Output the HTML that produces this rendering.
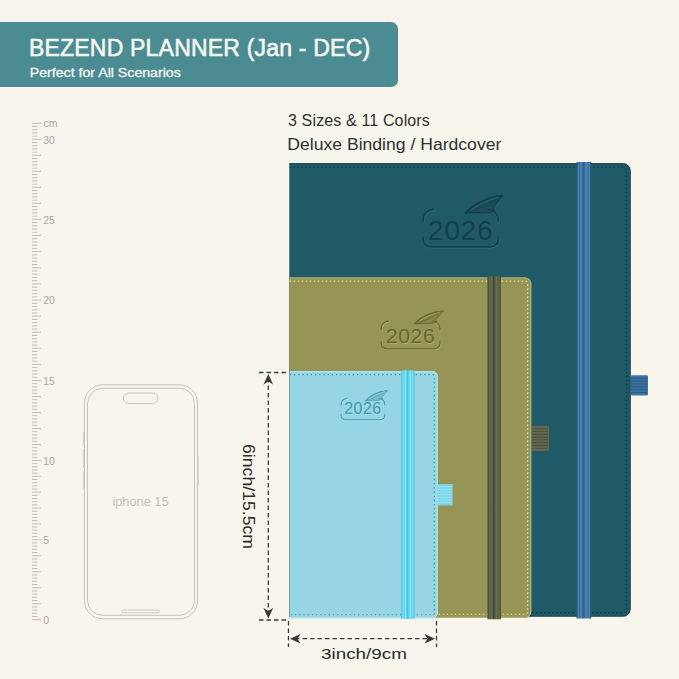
<!DOCTYPE html>
<html><head><meta charset="utf-8">
<style>
html,body{margin:0;padding:0;}
body{width:679px;height:679px;overflow:hidden;background:#f8f5ed;position:relative;font-family:"Liberation Sans",sans-serif;}
.abs{position:absolute;}
#banner{left:0;top:22px;width:398px;height:65px;background:#4a8c91;border-radius:0 7px 7px 0;}
</style></head><body>
<div id="banner" class="abs"></div>
<svg class="abs" style="left:0;top:0" width="679" height="679" viewBox="0 0 679 679">
<g stroke="#c2beb6" stroke-width="1"><line x1="32" y1="619.70" x2="41.5" y2="619.70"/><line x1="32" y1="616.50" x2="37.5" y2="616.50"/><line x1="32" y1="613.30" x2="37.5" y2="613.30"/><line x1="32" y1="610.10" x2="37.5" y2="610.10"/><line x1="32" y1="606.90" x2="37.5" y2="606.90"/><line x1="32" y1="603.70" x2="41" y2="603.70"/><line x1="32" y1="600.50" x2="37.5" y2="600.50"/><line x1="32" y1="597.30" x2="37.5" y2="597.30"/><line x1="32" y1="594.10" x2="37.5" y2="594.10"/><line x1="32" y1="590.90" x2="37.5" y2="590.90"/><line x1="32" y1="587.70" x2="41" y2="587.70"/><line x1="32" y1="584.50" x2="37.5" y2="584.50"/><line x1="32" y1="581.30" x2="37.5" y2="581.30"/><line x1="32" y1="578.10" x2="37.5" y2="578.10"/><line x1="32" y1="574.90" x2="37.5" y2="574.90"/><line x1="32" y1="571.70" x2="41" y2="571.70"/><line x1="32" y1="568.50" x2="37.5" y2="568.50"/><line x1="32" y1="565.30" x2="37.5" y2="565.30"/><line x1="32" y1="562.10" x2="37.5" y2="562.10"/><line x1="32" y1="558.90" x2="37.5" y2="558.90"/><line x1="32" y1="555.70" x2="41" y2="555.70"/><line x1="32" y1="552.50" x2="37.5" y2="552.50"/><line x1="32" y1="549.30" x2="37.5" y2="549.30"/><line x1="32" y1="546.10" x2="37.5" y2="546.10"/><line x1="32" y1="542.90" x2="37.5" y2="542.90"/><line x1="32" y1="539.70" x2="41.5" y2="539.70"/><line x1="32" y1="536.53" x2="37.5" y2="536.53"/><line x1="32" y1="533.36" x2="37.5" y2="533.36"/><line x1="32" y1="530.20" x2="37.5" y2="530.20"/><line x1="32" y1="527.03" x2="37.5" y2="527.03"/><line x1="32" y1="523.86" x2="41" y2="523.86"/><line x1="32" y1="520.69" x2="37.5" y2="520.69"/><line x1="32" y1="517.52" x2="37.5" y2="517.52"/><line x1="32" y1="514.36" x2="37.5" y2="514.36"/><line x1="32" y1="511.19" x2="37.5" y2="511.19"/><line x1="32" y1="508.02" x2="41" y2="508.02"/><line x1="32" y1="504.85" x2="37.5" y2="504.85"/><line x1="32" y1="501.68" x2="37.5" y2="501.68"/><line x1="32" y1="498.52" x2="37.5" y2="498.52"/><line x1="32" y1="495.35" x2="37.5" y2="495.35"/><line x1="32" y1="492.18" x2="41" y2="492.18"/><line x1="32" y1="489.01" x2="37.5" y2="489.01"/><line x1="32" y1="485.84" x2="37.5" y2="485.84"/><line x1="32" y1="482.68" x2="37.5" y2="482.68"/><line x1="32" y1="479.51" x2="37.5" y2="479.51"/><line x1="32" y1="476.34" x2="41" y2="476.34"/><line x1="32" y1="473.17" x2="37.5" y2="473.17"/><line x1="32" y1="470.00" x2="37.5" y2="470.00"/><line x1="32" y1="466.84" x2="37.5" y2="466.84"/><line x1="32" y1="463.67" x2="37.5" y2="463.67"/><line x1="32" y1="460.50" x2="41.5" y2="460.50"/><line x1="32" y1="457.30" x2="37.5" y2="457.30"/><line x1="32" y1="454.10" x2="37.5" y2="454.10"/><line x1="32" y1="450.90" x2="37.5" y2="450.90"/><line x1="32" y1="447.70" x2="37.5" y2="447.70"/><line x1="32" y1="444.50" x2="41" y2="444.50"/><line x1="32" y1="441.30" x2="37.5" y2="441.30"/><line x1="32" y1="438.10" x2="37.5" y2="438.10"/><line x1="32" y1="434.90" x2="37.5" y2="434.90"/><line x1="32" y1="431.70" x2="37.5" y2="431.70"/><line x1="32" y1="428.50" x2="41" y2="428.50"/><line x1="32" y1="425.30" x2="37.5" y2="425.30"/><line x1="32" y1="422.10" x2="37.5" y2="422.10"/><line x1="32" y1="418.90" x2="37.5" y2="418.90"/><line x1="32" y1="415.70" x2="37.5" y2="415.70"/><line x1="32" y1="412.50" x2="41" y2="412.50"/><line x1="32" y1="409.30" x2="37.5" y2="409.30"/><line x1="32" y1="406.10" x2="37.5" y2="406.10"/><line x1="32" y1="402.90" x2="37.5" y2="402.90"/><line x1="32" y1="399.70" x2="37.5" y2="399.70"/><line x1="32" y1="396.50" x2="41" y2="396.50"/><line x1="32" y1="393.30" x2="37.5" y2="393.30"/><line x1="32" y1="390.10" x2="37.5" y2="390.10"/><line x1="32" y1="386.90" x2="37.5" y2="386.90"/><line x1="32" y1="383.70" x2="37.5" y2="383.70"/><line x1="32" y1="380.50" x2="41.5" y2="380.50"/><line x1="32" y1="377.28" x2="37.5" y2="377.28"/><line x1="32" y1="374.07" x2="37.5" y2="374.07"/><line x1="32" y1="370.85" x2="37.5" y2="370.85"/><line x1="32" y1="367.64" x2="37.5" y2="367.64"/><line x1="32" y1="364.42" x2="41" y2="364.42"/><line x1="32" y1="361.20" x2="37.5" y2="361.20"/><line x1="32" y1="357.99" x2="37.5" y2="357.99"/><line x1="32" y1="354.77" x2="37.5" y2="354.77"/><line x1="32" y1="351.56" x2="37.5" y2="351.56"/><line x1="32" y1="348.34" x2="41" y2="348.34"/><line x1="32" y1="345.12" x2="37.5" y2="345.12"/><line x1="32" y1="341.91" x2="37.5" y2="341.91"/><line x1="32" y1="338.69" x2="37.5" y2="338.69"/><line x1="32" y1="335.48" x2="37.5" y2="335.48"/><line x1="32" y1="332.26" x2="41" y2="332.26"/><line x1="32" y1="329.04" x2="37.5" y2="329.04"/><line x1="32" y1="325.83" x2="37.5" y2="325.83"/><line x1="32" y1="322.61" x2="37.5" y2="322.61"/><line x1="32" y1="319.40" x2="37.5" y2="319.40"/><line x1="32" y1="316.18" x2="41" y2="316.18"/><line x1="32" y1="312.96" x2="37.5" y2="312.96"/><line x1="32" y1="309.75" x2="37.5" y2="309.75"/><line x1="32" y1="306.53" x2="37.5" y2="306.53"/><line x1="32" y1="303.32" x2="37.5" y2="303.32"/><line x1="32" y1="300.10" x2="41.5" y2="300.10"/><line x1="32" y1="296.87" x2="37.5" y2="296.87"/><line x1="32" y1="293.64" x2="37.5" y2="293.64"/><line x1="32" y1="290.40" x2="37.5" y2="290.40"/><line x1="32" y1="287.17" x2="37.5" y2="287.17"/><line x1="32" y1="283.94" x2="41" y2="283.94"/><line x1="32" y1="280.71" x2="37.5" y2="280.71"/><line x1="32" y1="277.48" x2="37.5" y2="277.48"/><line x1="32" y1="274.24" x2="37.5" y2="274.24"/><line x1="32" y1="271.01" x2="37.5" y2="271.01"/><line x1="32" y1="267.78" x2="41" y2="267.78"/><line x1="32" y1="264.55" x2="37.5" y2="264.55"/><line x1="32" y1="261.32" x2="37.5" y2="261.32"/><line x1="32" y1="258.08" x2="37.5" y2="258.08"/><line x1="32" y1="254.85" x2="37.5" y2="254.85"/><line x1="32" y1="251.62" x2="41" y2="251.62"/><line x1="32" y1="248.39" x2="37.5" y2="248.39"/><line x1="32" y1="245.16" x2="37.5" y2="245.16"/><line x1="32" y1="241.92" x2="37.5" y2="241.92"/><line x1="32" y1="238.69" x2="37.5" y2="238.69"/><line x1="32" y1="235.46" x2="41" y2="235.46"/><line x1="32" y1="232.23" x2="37.5" y2="232.23"/><line x1="32" y1="229.00" x2="37.5" y2="229.00"/><line x1="32" y1="225.76" x2="37.5" y2="225.76"/><line x1="32" y1="222.53" x2="37.5" y2="222.53"/><line x1="32" y1="219.30" x2="41.5" y2="219.30"/><line x1="32" y1="216.10" x2="37.5" y2="216.10"/><line x1="32" y1="212.90" x2="37.5" y2="212.90"/><line x1="32" y1="209.70" x2="37.5" y2="209.70"/><line x1="32" y1="206.50" x2="37.5" y2="206.50"/><line x1="32" y1="203.30" x2="41" y2="203.30"/><line x1="32" y1="200.10" x2="37.5" y2="200.10"/><line x1="32" y1="196.90" x2="37.5" y2="196.90"/><line x1="32" y1="193.70" x2="37.5" y2="193.70"/><line x1="32" y1="190.50" x2="37.5" y2="190.50"/><line x1="32" y1="187.30" x2="41" y2="187.30"/><line x1="32" y1="184.10" x2="37.5" y2="184.10"/><line x1="32" y1="180.90" x2="37.5" y2="180.90"/><line x1="32" y1="177.70" x2="37.5" y2="177.70"/><line x1="32" y1="174.50" x2="37.5" y2="174.50"/><line x1="32" y1="171.30" x2="41" y2="171.30"/><line x1="32" y1="168.10" x2="37.5" y2="168.10"/><line x1="32" y1="164.90" x2="37.5" y2="164.90"/><line x1="32" y1="161.70" x2="37.5" y2="161.70"/><line x1="32" y1="158.50" x2="37.5" y2="158.50"/><line x1="32" y1="155.30" x2="41" y2="155.30"/><line x1="32" y1="152.10" x2="37.5" y2="152.10"/><line x1="32" y1="148.90" x2="37.5" y2="148.90"/><line x1="32" y1="145.70" x2="37.5" y2="145.70"/><line x1="32" y1="142.50" x2="37.5" y2="142.50"/><line x1="32" y1="139.30" x2="41.5" y2="139.30"/><line x1="32" y1="136.10" x2="37.5" y2="136.10"/><line x1="32" y1="132.90" x2="37.5" y2="132.90"/><line x1="32" y1="129.70" x2="37.5" y2="129.70"/><line x1="32" y1="126.50" x2="37.5" y2="126.50"/><line x1="32" y1="123.30" x2="41.5" y2="123.30"/></g>
<g fill="#a8a49e" font-family="Liberation Sans" font-size="10.4"><text x="43.2" y="623.90">0</text><text x="43.2" y="543.90">5</text><text x="43.2" y="464.70">10</text><text x="43.2" y="384.70">15</text><text x="43.2" y="304.30">20</text><text x="43.2" y="223.50">25</text><text x="43.2" y="143.50">30</text><text x="43.6" y="126.70">cm</text></g>
<g fill="none" stroke="#c7c3bc" stroke-width="1">
<rect x="84.5" y="384.8" width="113" height="234" rx="18"/>
<rect x="87.5" y="388.3" width="107" height="227" rx="15"/>
<rect x="123.5" y="393" width="34.5" height="10.5" rx="5.25"/>
<rect x="121.8" y="610" width="37.6" height="2.8" rx="1.4" stroke-width="0.9"/>
</g>
<g stroke="#dad6cf" stroke-width="1.2" fill="none"><line x1="83.5" y1="432" x2="83.5" y2="446"/><line x1="83.5" y1="449" x2="83.5" y2="468"/><line x1="83.5" y1="471" x2="83.5" y2="490"/><line x1="198.3" y1="456" x2="198.3" y2="485"/></g>
<text x="140.5" y="505.5" fill="#c4c0b9" font-family="Liberation Sans" font-size="12.8" text-anchor="middle">iphone 15</text>
<path d="M289.3,163.2 H623.1 A7.5,7.5 0 0 1 630.6,170.7 V609.1 A7.5,7.5 0 0 1 623.1,616.6 H289.3 Z" fill="#1f5a66"/><path d="M289.3,163.7 H623.1 A7.0,7.0 0 0 1 630.1,170.7 V609.1 A7.0,7.0 0 0 1 623.1,616.1 H289.3" fill="none" stroke="#174650" stroke-width="1"/><path d="M289.3,167.2 H623.1 A3.5,3.5 0 0 1 626.6,170.7 V609.1 A3.5,3.5 0 0 1 623.1,612.6 H289.3" fill="none" stroke="#123c45" stroke-width="1.1" stroke-dasharray="2 2"/><g fill="none" stroke-linecap="round"><path transform="translate(0.7,0.7)" d="M433.43,209.50 A10.12,10.12 0 0 0 423.30,219.62 V221.14 M423.30,237.25 V239.50 A7.50,7.50 0 0 0 430.80,247.00 H490.80 A7.50,7.50 0 0 0 498.30,239.50 V237.25 M498.30,221.14 V219.62 A10.12,10.12 0 0 0 488.18,209.50" stroke="#2e6c77" stroke-width="1.57"/><path transform="translate(0,0)" d="M433.43,209.50 A10.12,10.12 0 0 0 423.30,219.62 V221.14 M423.30,237.25 V239.50 A7.50,7.50 0 0 0 430.80,247.00 H490.80 A7.50,7.50 0 0 0 498.30,239.50 V237.25 M498.30,221.14 V219.62 A10.12,10.12 0 0 0 488.18,209.50" stroke="#134049" stroke-width="1.57"/></g><text x="461.40" y="240.10" text-anchor="middle" font-family="Liberation Sans" font-size="28" fill="#2e6c77" letter-spacing="0.84">2026</text><text x="460.80" y="239.50" text-anchor="middle" font-family="Liberation Sans" font-size="28" fill="#134049" stroke="#1f5a66" stroke-width="0.62" paint-order="stroke" letter-spacing="0.84">2026</text><path d="M465.30,213.25 C472.80,204.62 486.30,197.12 502.80,195.62 C498.30,199.00 496.05,205.00 492.30,207.62 L494.55,210.25 C490.80,212.50 483.30,213.25 477.30,212.50 C472.80,212.88 468.30,213.25 465.30,213.25 Z" fill="#134049" fill-opacity="0.35" stroke="#134049" stroke-width="1.09" stroke-linejoin="round"/><path d="M465.30,213.25 C472.80,204.62 486.30,197.12 502.80,195.62" fill="none" stroke="#134049" stroke-width="1.64"/><path d="M468.30,212.88 C477.30,209.50 487.05,203.88 496.80,199.38" fill="none" stroke="#134049" stroke-width="0.95"/><path d="M471.30,209.50 C478.80,205.00 487.80,199.75 498.30,197.12" fill="none" stroke="#2e6c77" stroke-width="0.82"/><defs><linearGradient id="bg1" x1="0" y1="0" x2="1" y2="0"><stop offset="0" stop-color="#2c5f88"/><stop offset="0.06" stop-color="#2c5f88"/><stop offset="0.12" stop-color="#4f87b3"/><stop offset="0.2" stop-color="#386e9b"/><stop offset="0.32" stop-color="#4f87b3"/><stop offset="0.45" stop-color="#2c5f88"/><stop offset="0.55" stop-color="#386e9b"/><stop offset="0.68" stop-color="#4f87b3"/><stop offset="0.8" stop-color="#386e9b"/><stop offset="0.88" stop-color="#4f87b3"/><stop offset="0.94" stop-color="#2c5f88"/><stop offset="1" stop-color="#2c5f88"/></linearGradient></defs><rect x="576.5" y="162" width="14.700000000000045" height="456.5" fill="url(#bg1)"/><rect x="631" y="375.2" width="17" height="20.19999999999999" rx="1.2" fill="#3a72a2"/><line x1="631" y1="378.09" x2="647" y2="378.09" stroke="#27547c" stroke-width="0.8"/><line x1="631" y1="380.97" x2="647" y2="380.97" stroke="#27547c" stroke-width="0.8"/><line x1="631" y1="383.86" x2="647" y2="383.86" stroke="#27547c" stroke-width="0.8"/><line x1="631" y1="386.74" x2="647" y2="386.74" stroke="#27547c" stroke-width="0.8"/><line x1="631" y1="389.63" x2="647" y2="389.63" stroke="#27547c" stroke-width="0.8"/><line x1="631" y1="392.51" x2="647" y2="392.51" stroke="#27547c" stroke-width="0.8"/><path d="M289.5,277.5 H525.3 A6,6 0 0 1 531.3,283.5 V611.9 A6,6 0 0 1 525.3,617.9 H289.5 Z" fill="#969556"/><path d="M289.5,278.0 H525.3 A5.5,5.5 0 0 1 530.8,283.5 V611.9 A5.5,5.5 0 0 1 525.3,617.4 H289.5" fill="none" stroke="#b3b57c" stroke-width="1"/><path d="M289.5,281.1 H525.3 A2.4,2.4 0 0 1 527.6999999999999,283.5 V611.9 A2.4,2.4 0 0 1 525.3,614.3 H289.5" fill="none" stroke="#e8de8c" stroke-width="1.1" stroke-dasharray="1.6 2.4"/><g fill="none" stroke-linecap="round"><path transform="translate(0.7,0.7)" d="M388.68,321.20 A7.48,7.48 0 0 0 381.20,328.68 V329.80 M381.20,341.70 V343.36 A5.54,5.54 0 0 0 386.74,348.90 H434.46 A5.54,5.54 0 0 0 440.00,343.36 V341.70 M440.00,329.80 V328.68 A7.48,7.48 0 0 0 432.52,321.20" stroke="#b0b06c" stroke-width="1.23"/><path transform="translate(0,0)" d="M388.68,321.20 A7.48,7.48 0 0 0 381.20,328.68 V329.80 M381.20,341.70 V343.36 A5.54,5.54 0 0 0 386.74,348.90 H434.46 A5.54,5.54 0 0 0 440.00,343.36 V341.70 M440.00,329.80 V328.68 A7.48,7.48 0 0 0 432.52,321.20" stroke="#66682f" stroke-width="1.23"/></g><text x="411.20" y="343.96" text-anchor="middle" font-family="Liberation Sans" font-size="21" fill="#b0b06c" letter-spacing="0.63">2026</text><text x="410.60" y="343.36" text-anchor="middle" font-family="Liberation Sans" font-size="21" fill="#66682f" stroke="#969556" stroke-width="0.46" paint-order="stroke" letter-spacing="0.63">2026</text><path d="M414.13,323.97 C420.01,317.60 430.59,312.06 443.53,310.95 C440.00,313.44 438.24,317.88 435.30,319.81 L437.06,321.75 C434.12,323.42 428.24,323.97 423.54,323.42 C420.01,323.69 416.48,323.97 414.13,323.97 Z" fill="#66682f" fill-opacity="0.35" stroke="#66682f" stroke-width="0.86" stroke-linejoin="round"/><path d="M414.13,323.97 C420.01,317.60 430.59,312.06 443.53,310.95" fill="none" stroke="#66682f" stroke-width="1.28"/><path d="M416.48,323.69 C423.54,321.20 431.18,317.05 438.82,313.72" fill="none" stroke="#66682f" stroke-width="0.75"/><path d="M418.83,321.20 C424.71,317.88 431.77,314.00 440.00,312.06" fill="none" stroke="#b0b06c" stroke-width="0.64"/><defs><linearGradient id="bg2" x1="0" y1="0" x2="1" y2="0"><stop offset="0" stop-color="#43492f"/><stop offset="0.06" stop-color="#43492f"/><stop offset="0.12" stop-color="#687056"/><stop offset="0.2" stop-color="#545b43"/><stop offset="0.32" stop-color="#687056"/><stop offset="0.45" stop-color="#43492f"/><stop offset="0.55" stop-color="#545b43"/><stop offset="0.68" stop-color="#687056"/><stop offset="0.8" stop-color="#545b43"/><stop offset="0.88" stop-color="#687056"/><stop offset="0.94" stop-color="#43492f"/><stop offset="1" stop-color="#43492f"/></linearGradient></defs><rect x="487.5" y="276.3" width="13.300000000000011" height="342.99999999999994" fill="url(#bg2)"/><rect x="532" y="426" width="17" height="25" rx="1.2" fill="#66674f"/><line x1="532" y1="428.78" x2="548" y2="428.78" stroke="#46483a" stroke-width="0.8"/><line x1="532" y1="431.56" x2="548" y2="431.56" stroke="#46483a" stroke-width="0.8"/><line x1="532" y1="434.33" x2="548" y2="434.33" stroke="#46483a" stroke-width="0.8"/><line x1="532" y1="437.11" x2="548" y2="437.11" stroke="#46483a" stroke-width="0.8"/><line x1="532" y1="439.89" x2="548" y2="439.89" stroke="#46483a" stroke-width="0.8"/><line x1="532" y1="442.67" x2="548" y2="442.67" stroke="#46483a" stroke-width="0.8"/><line x1="532" y1="445.44" x2="548" y2="445.44" stroke="#46483a" stroke-width="0.8"/><line x1="532" y1="448.22" x2="548" y2="448.22" stroke="#46483a" stroke-width="0.8"/><path d="M289.8,371.2 H432.7 A5,5 0 0 1 437.7,376.2 V613.2 A5,5 0 0 1 432.7,618.2 H289.8 Z" fill="#95d5e6"/><path d="M289.8,371.7 H432.7 A4.5,4.5 0 0 1 437.2,376.2 V613.2 A4.5,4.5 0 0 1 432.7,617.7 H289.8" fill="none" stroke="#b9e8f2" stroke-width="1"/><path d="M289.8,374.59999999999997 H432.7 A1.6,1.6 0 0 1 434.3,376.2 V613.2 A1.6,1.6 0 0 1 432.7,614.8000000000001 H289.8" fill="none" stroke="#3c8aa0" stroke-width="1.1" stroke-dasharray="1.3 2.9"/><g fill="none" stroke-linecap="round"><path transform="translate(0.7,0.7)" d="M346.80,398.60 A5.70,5.70 0 0 0 341.10,404.30 V405.15 M341.10,414.21 V415.48 A4.22,4.22 0 0 0 345.32,419.70 H380.68 A4.22,4.22 0 0 0 384.90,415.48 V414.21 M384.90,405.15 V404.30 A5.70,5.70 0 0 0 379.20,398.60" stroke="#a9e1ee" stroke-width="1.03"/><path transform="translate(0,0)" d="M346.80,398.60 A5.70,5.70 0 0 0 341.10,404.30 V405.15 M341.10,414.21 V415.48 A4.22,4.22 0 0 0 345.32,419.70 H380.68 A4.22,4.22 0 0 0 384.90,415.48 V414.21 M384.90,405.15 V404.30 A5.70,5.70 0 0 0 379.20,398.60" stroke="#4598ae" stroke-width="1.03"/></g><text x="363.60" y="415.08" text-anchor="middle" font-family="Liberation Sans" font-size="16" fill="#a9e1ee" letter-spacing="0.48">2026</text><text x="363.00" y="414.48" text-anchor="middle" font-family="Liberation Sans" font-size="16" fill="#4598ae" stroke="#95d5e6" stroke-width="0.35" paint-order="stroke" letter-spacing="0.48">2026</text><path d="M365.63,400.71 C370.01,395.86 377.89,391.64 387.53,390.79 C384.90,392.69 383.59,396.07 381.40,397.55 L382.71,399.02 C380.52,400.29 376.14,400.71 372.64,400.29 C370.01,400.50 367.38,400.71 365.63,400.71 Z" fill="#4598ae" fill-opacity="0.35" stroke="#4598ae" stroke-width="0.72" stroke-linejoin="round"/><path d="M365.63,400.71 C370.01,395.86 377.89,391.64 387.53,390.79" fill="none" stroke="#4598ae" stroke-width="1.08"/><path d="M367.38,400.50 C372.64,398.60 378.33,395.44 384.02,392.90" fill="none" stroke="#4598ae" stroke-width="0.63"/><path d="M369.13,398.60 C373.51,396.07 378.77,393.11 384.90,391.64" fill="none" stroke="#a9e1ee" stroke-width="0.54"/><defs><linearGradient id="bg3" x1="0" y1="0" x2="1" y2="0"><stop offset="0" stop-color="#44c4df"/><stop offset="0.06" stop-color="#44c4df"/><stop offset="0.12" stop-color="#8fe4f3"/><stop offset="0.2" stop-color="#58d2ea"/><stop offset="0.32" stop-color="#8fe4f3"/><stop offset="0.45" stop-color="#44c4df"/><stop offset="0.55" stop-color="#58d2ea"/><stop offset="0.68" stop-color="#8fe4f3"/><stop offset="0.8" stop-color="#58d2ea"/><stop offset="0.88" stop-color="#8fe4f3"/><stop offset="0.94" stop-color="#44c4df"/><stop offset="1" stop-color="#44c4df"/></linearGradient></defs><rect x="401.3" y="370.5" width="13.300000000000011" height="248.29999999999995" fill="url(#bg3)"/><rect x="437.7" y="484" width="15.0" height="21.399999999999977" rx="1.2" fill="#74d4ec"/><line x1="437.7" y1="486.68" x2="451.7" y2="486.68" stroke="#b5ebf7" stroke-width="0.8"/><line x1="437.7" y1="489.35" x2="451.7" y2="489.35" stroke="#b5ebf7" stroke-width="0.8"/><line x1="437.7" y1="492.02" x2="451.7" y2="492.02" stroke="#b5ebf7" stroke-width="0.8"/><line x1="437.7" y1="494.70" x2="451.7" y2="494.70" stroke="#b5ebf7" stroke-width="0.8"/><line x1="437.7" y1="497.38" x2="451.7" y2="497.38" stroke="#b5ebf7" stroke-width="0.8"/><line x1="437.7" y1="500.05" x2="451.7" y2="500.05" stroke="#b5ebf7" stroke-width="0.8"/><line x1="437.7" y1="502.72" x2="451.7" y2="502.72" stroke="#b5ebf7" stroke-width="0.8"/>
<g stroke="#3a3a3a" stroke-width="1.3" stroke-dasharray="4.5 3" fill="none"><line x1="259" y1="372.5" x2="289" y2="372.5"/><line x1="259" y1="620" x2="289" y2="620"/><line x1="268.3" y1="378" x2="268.3" y2="614"/><line x1="288.5" y1="621" x2="288.5" y2="647"/><line x1="436.5" y1="621" x2="436.5" y2="647"/><line x1="295" y1="638.7" x2="430" y2="638.7"/></g><path d="M268.3,374 L263.5,384.5 L268.3,381.5 L273.1,384.5 Z" fill="#3a3a3a"/><path d="M268.3,618.5 L263.5,608 L268.3,611 L273.1,608 Z" fill="#3a3a3a"/><path d="M290,638.7 L300.5,633.9 L297.5,638.7 L300.5,643.5 Z" fill="#3a3a3a"/><path d="M435,638.7 L424.5,633.9 L427.5,638.7 L424.5,643.5 Z" fill="#3a3a3a"/>
<g font-family="Liberation Sans">
<text x="29" y="56.3" font-size="23" fill="#f5f5f0" stroke="#f5f5f0" stroke-width="0.6" letter-spacing="0.2">BEZEND PLANNER (Jan - DEC)</text>
<text x="29.8" y="76.8" font-size="12.3" fill="#f5f5f0" stroke="#f5f5f0" stroke-width="0.3" textLength="151" lengthAdjust="spacingAndGlyphs">Perfect for All Scenarios</text>
<text x="288" y="126.3" font-size="16" fill="#303030" letter-spacing="0.14">3 Sizes &amp; 11 Colors</text>
<text x="287.3" y="149.8" font-size="16" fill="#303030" textLength="214" lengthAdjust="spacingAndGlyphs">Deluxe Binding / Hardcover</text>
<text transform="translate(243,444) rotate(90)" x="0" y="0" font-size="16.3" fill="#2b2b2b" textLength="105" lengthAdjust="spacingAndGlyphs">6inch/15.5cm</text>
<text x="321" y="658.9" font-size="15.5" fill="#2b2b2b" textLength="86" lengthAdjust="spacingAndGlyphs">3inch/9cm</text>
</g>
</svg>

</body></html>
